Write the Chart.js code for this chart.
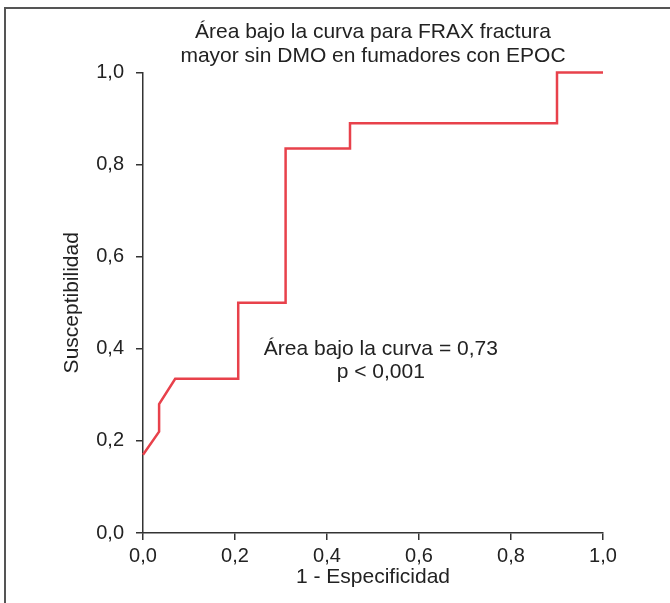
<!DOCTYPE html>
<html>
<head>
<meta charset="utf-8">
<script src="https://cdn.jsdelivr.net/npm/chart.js@4.4.1/dist/chart.umd.min.js"></script>
<style>
  html, body { margin: 0; padding: 0; background: #fff; }
  #wrap { width: 670px; height: 603px; }
</style>
</head>
<body>
<div id="wrap"><canvas id="roc" width="670" height="603"></canvas></div>
<script>
// ROC curve vertices (1 - especificidad, susceptibilidad)
const fpr = [0, 0.035, 0.035, 0.07, 0.207, 0.207, 0.31, 0.31, 0.45, 0.45, 0.9, 0.9, 1];
const tpr = [0.17, 0.22, 0.28, 0.335, 0.335, 0.5, 0.5, 0.835, 0.835, 0.89, 0.89, 1, 1];
const tickValues = [0, 0.2, 0.4, 0.6, 0.8, 1];
const titleLines = ['Área bajo la curva para FRAX fractura', 'mayor sin DMO en fumadores con EPOC'];
const noteLines = ['Área bajo la curva = 0,73', 'p < 0,001'];
const notePos = [0.517, 0.4];

const FONT = "'Liberation Sans', Arial, Helvetica, sans-serif";
const INK = '#222';

Chart.defaults.font.family = FONT;
Chart.defaults.font.size = 20;
Chart.defaults.color = INK;

const fmt = (v) => v.toFixed(1).replace('.', ',');

// frame line at left and top of the figure
const framePlugin = {
  id: 'frame',
  beforeDraw(chart) {
    const ctx = chart.ctx;
    ctx.save();
    ctx.strokeStyle = '#555';
    ctx.lineWidth = 2;
    ctx.beginPath();
    ctx.moveTo(5, chart.height);
    ctx.lineTo(5, 8);
    ctx.lineTo(chart.width, 8);
    ctx.stroke();
    ctx.restore();
  }
};

const notePlugin = {
  id: 'note',
  afterDatasetsDraw(chart) {
    const { ctx, scales } = chart;
    const x = scales.x.getPixelForValue(notePos[0]);
    const y = scales.y.getPixelForValue(notePos[1]);
    ctx.save();
    ctx.font = '21px ' + FONT;
    ctx.fillStyle = INK;
    ctx.textAlign = 'center';
    ctx.textBaseline = 'middle';
    noteLines.forEach((line, i) => ctx.fillText(line, x, y + i * 23));
    ctx.restore();
  }
};

const axisStyle = {
  type: 'linear',
  min: 0,
  max: 1,
  border: { display: true, color: '#333', width: 1.5 },
  grid: { drawOnChartArea: false, drawTicks: true, tickLength: 7, color: '#333', lineWidth: 1.5 },
};

new Chart(document.getElementById('roc'), {
  type: 'scatter',
  data: {
    datasets: [{
      data: fpr.map((x, i) => ({ x: x, y: tpr[i] })),
      showLine: true,
      borderColor: '#e8414b',
      borderWidth: 2.5,
      pointRadius: 0,
      tension: 0,
      clip: false,
    }]
  },
  options: {
    responsive: false,
    animation: false,
    layout: { padding: { left: 0, right: 67, top: 0, bottom: 0 } },
    plugins: {
      legend: { display: false },
      tooltip: { enabled: false },
      title: {
        display: true,
        text: titleLines,
        fullSize: false,
        color: INK,
        font: { size: 21, weight: 'normal', lineHeight: 24 / 21 },
        padding: { top: 20, bottom: 4.5 },
      },
    },
    scales: {
      x: {
        ...axisStyle,
        position: 'bottom',
        afterBuildTicks: (s) => { s.ticks = tickValues.map(v => ({ value: v })); },
        ticks: { callback: fmt, padding: 4, maxRotation: 0 },
        title: { display: true, text: '1 - Especificidad', font: { size: 21 }, padding: { top: 4, bottom: 13 } },
        afterFit: (s) => { s.height = 70; },
      },
      y: {
        ...axisStyle,
        position: 'left',
        afterBuildTicks: (s) => { s.ticks = tickValues.map(v => ({ value: v })); },
        ticks: { callback: fmt, padding: 12 },
        title: { display: true, text: 'Susceptibilidad', font: { size: 21 }, padding: { top: 60, bottom: 4 } },
        afterFit: (s) => { s.width = 143; },
      },
    },
  },
  plugins: [framePlugin, notePlugin],
});
</script>
</body>
</html>
